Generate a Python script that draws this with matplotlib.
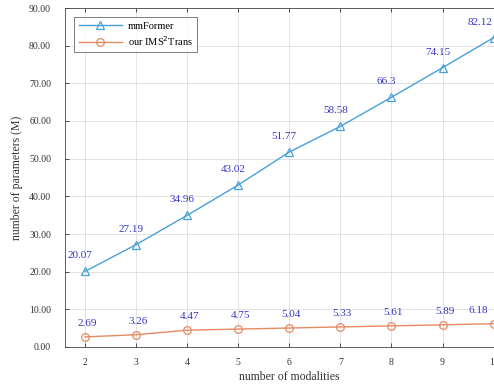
import matplotlib
matplotlib.use('Agg')
import matplotlib.pyplot as plt
from matplotlib.ticker import FormatStrFormatter

plt.rcParams['font.family'] = ['Liberation Serif', 'DejaVu Serif']

modalities = [2, 3, 4, 5, 6, 7, 8, 9, 10]
mmformer = [20.07, 27.19, 34.96, 43.02, 51.77, 58.58, 66.3, 74.15, 82.12]
ims2trans = [2.69, 3.26, 4.47, 4.75, 5.04, 5.33, 5.61, 5.89, 6.18]
mm_labels = ['20.07', '27.19', '34.96', '43.02', '51.77', '58.58', '66.3', '74.15', '82.12']
ims_labels = ['2.69', '3.26', '4.47', '4.75', '5.04', '5.33', '5.61', '5.89', '6.18']

blue = '#47a0da'
orange = '#e68a60'
txt = '#3535c8'

fig = plt.figure(figsize=(4.94, 3.9), dpi=100)
# right part of the original axes is cropped off, like the reference
ax = fig.add_axes([65 / 494, 43 / 390, 449 / 494, 339 / 390])

ax.plot(modalities, mmformer, color=blue, lw=1.0, marker='^', ms=5.5,
        mfc='none', mec=blue, mew=0.9, label='mmFormer')
ax.plot(modalities, ims2trans, color=orange, lw=1.0, marker='o', ms=5.5,
        mfc='none', mec=orange, mew=0.9, label='our IMS$^2$Trans')

for i, (x, y) in enumerate(zip(modalities, mmformer)):
    dx = -14 if i == len(modalities) - 1 else -5
    ax.annotate(mm_labels[i], (x, y), xytext=(dx, 11), textcoords='offset pixels',
                ha='center', va='bottom', fontsize=8, color=txt)
for i, (x, y) in enumerate(zip(modalities, ims2trans)):
    dx = -15 if i == len(modalities) - 1 else 2
    ax.annotate(ims_labels[i], (x, y), xytext=(dx, 9), textcoords='offset pixels',
                ha='center', va='bottom', fontsize=8, color=txt)

ax.set_xlim(1.607, 10.4)
ax.set_ylim(0, 90)
ax.set_xticks(modalities)
ax.set_yticks(range(0, 91, 10))
ax.yaxis.set_major_formatter(FormatStrFormatter('%.2f'))
ax.tick_params(direction='in', top=True, right=True, labelsize=7, length=3,
               width=0.6, colors='#333333')
ax.tick_params(axis='y', pad=10)
ax.tick_params(axis='x', pad=8)
ax.grid(True, color='#dddddd', lw=0.6)
ax.set_axisbelow(True)
for s in ax.spines.values():
    s.set_linewidth(0.6)
    s.set_color('#444444')

ax.set_xlabel('number of modalities', fontsize=8.5, color='#333333', labelpad=3)
ax.set_ylabel('number of parameters (M)', fontsize=8.5, color='#333333', labelpad=4)

leg = ax.legend(loc='upper left', fontsize=7.5, frameon=True, fancybox=False,
                edgecolor='#444444', borderaxespad=0.9, handlelength=4.2,
                handletextpad=0.5, labelspacing=0.3)
leg.get_frame().set_linewidth(0.6)

fig.savefig('out.png', dpi=100)
